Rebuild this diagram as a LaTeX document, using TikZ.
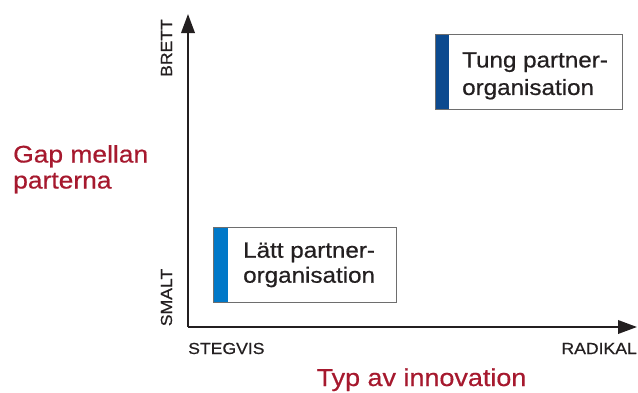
\documentclass[tikz,border=0pt]{standalone}
\usepackage{fontspec}
\setmainfont{Liberation Sans}[FakeStretch=1.1, FakeBold=0.6]
\usetikzlibrary{arrows.meta}
\definecolor{redlbl}{RGB}{166,25,46}
\definecolor{lightblue}{RGB}{0,120,200}
\definecolor{darkblue}{RGB}{12,74,143}
\definecolor{axisgray}{RGB}{35,31,32}
\definecolor{boxgray}{RGB}{110,110,110}
\tikzset{
  axis/.style={line width=2pt, draw=axisgray, -{Triangle[length=19pt,width=13.5pt]}},
  axislbl/.style={font=\fontsize{16}{18}\selectfont, text=axisgray, inner sep=0pt},
  redlbl/.style={font=\fontsize{24}{26}\selectfont, text=redlbl, inner sep=0pt, align=left},
  quadbox/.style={draw=boxgray, line width=0.8pt, fill=white, inner sep=0pt, minimum height=75pt},
  boxtext/.style={font=\fontsize{22}{27.5}\selectfont, text=axisgray, inner sep=0pt, align=left, anchor=west},
}
\begin{document}
\begin{tikzpicture}[x=1pt,y=-1pt]
\useasboundingbox (0,0) rectangle (638,392);
% axes
\coordinate (o) at (188,327);
\coordinate (ytip) at (188,14);
\coordinate (xtip) at (637,327);
\draw[axis] (o) -- (ytip);
\draw[axis] (o) -- (xtip);
% axis labels
\node[axislbl, rotate=90, anchor=base] (brett) at (172,48) {BRETT};
\node[axislbl, rotate=90, anchor=base] (smalt) at (172,297.5) {SMALT};
\node[axislbl, anchor=base west] (stegvis) at (188,354) {STEGVIS};
\node[axislbl, anchor=base east] (radikal) at (637,354) {RADIKAL};
% red labels
\node[redlbl, anchor=base west] (gap) at (13,188.5) {Gap mellan\\parterna};
\node[redlbl, font=\fontsize{24.5}{26}\selectfont, anchor=base] (typ) at (421.5,386) {Typ av innovation};
% boxes
\node[quadbox, minimum width=187pt, anchor=north west,
  path picture={\fill[darkblue] (path picture bounding box.north west) rectangle ([xshift=14pt]path picture bounding box.south west);}]
  (tung) at (435,34) {};
\node[boxtext] (tungtxt) at ([xshift=27pt,yshift=-4pt]tung.west) {Tung partner-\\organisation};
\node[quadbox, minimum width=183pt, anchor=north west,
  path picture={\fill[lightblue] (path picture bounding box.north west) rectangle ([xshift=15pt]path picture bounding box.south west);}]
  (latt) at (213,227) {};
\node[boxtext, font=\fontsize{22}{25}\selectfont] (latttxt) at ([xshift=30pt]latt.west) {Lätt partner-\\organisation};
\end{tikzpicture}
\end{document}
